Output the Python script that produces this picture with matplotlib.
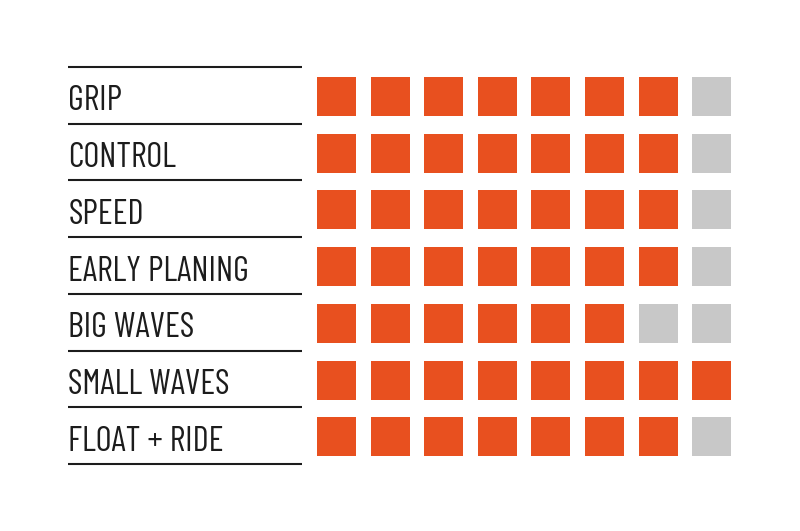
import matplotlib
matplotlib.use("Agg")
import matplotlib.pyplot as plt
from matplotlib.patches import Rectangle

labels = ["GRIP", "CONTROL", "SPEED", "EARLY PLANING", "BIG WAVES", "SMALL WAVES", "FLOAT + RIDE"]
ratings = [7, 7, 7, 7, 6, 8, 7]
max_rating = 8

ON = "#E8501F"
OFF = "#C8C8C8"
INK = "#1c1c1c"

fig = plt.figure(figsize=(8, 5.31), dpi=100)
ax = fig.add_axes([0, 0, 1, 1])
ax.set_xlim(0, 800)
ax.set_ylim(531, 0)
ax.axis("off")

# layout in pixels
row_h = 56.7
top = 67
sq = 39
sq_x0 = 317
sq_dx = 53.6

for i, (name, r) in enumerate(zip(labels, ratings)):
    y = top + i * row_h
    ax.plot([68, 302], [y, y], color=INK, lw=1.5, solid_capstyle="butt")
    ax.text(68.5, y + 43.5, name, fontsize=25, color=INK,
            family=["Barlow Condensed", "Open Sans"], stretch="condensed",
            va="baseline", ha="left")
    for k in range(max_rating):
        c = ON if k < r else OFF
        ax.add_patch(Rectangle((sq_x0 + k * sq_dx, y + 10), sq, sq, color=c, lw=0))

ax.plot([68, 302], [top + 7 * row_h] * 2, color=INK, lw=1.5, solid_capstyle="butt")

fig.savefig("out.png", dpi=100)
